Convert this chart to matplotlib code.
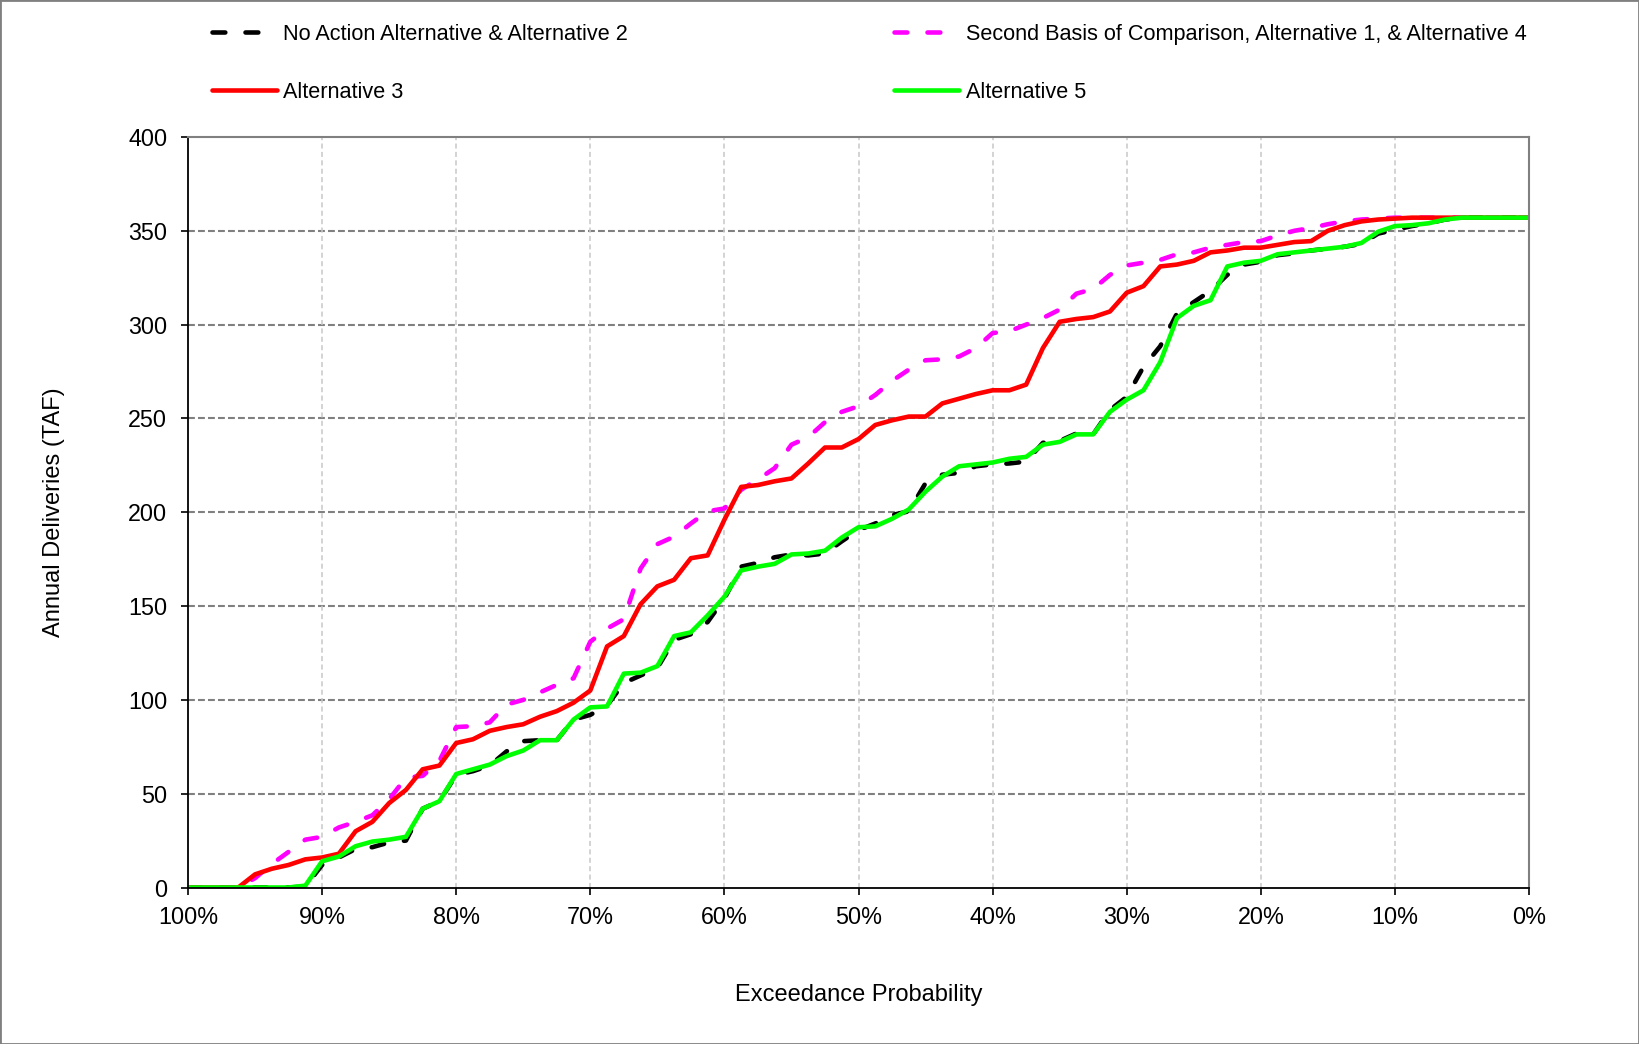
import matplotlib
matplotlib.use("Agg")
import matplotlib.pyplot as plt
from matplotlib.patches import Rectangle
import numpy as np

plt.rcParams['font.family'] = ['Liberation Sans', 'DejaVu Sans']

# Annual deliveries (TAF), sorted ascending, one value per year of record
no_action = [0, 0, 0, 0, 0, 0, 0, 0.5, 12, 16, 20.5, 21.5, 24, 25, 42, 46, 60, 62, 65, 72.5,
             78, 78.5, 78.5, 89.5, 92, 97, 109, 113, 117, 132, 135, 141.5, 154, 171, 173, 176,
             177.5, 177, 178, 184.5, 190.5, 194, 198.5, 200.5, 215.5, 220, 221, 224.5, 225.5,
             226, 227, 237, 238, 242, 241.5, 254.5, 261.5, 277.5, 288.5, 306, 312, 318, 326.5,
             332, 333.5, 337, 338, 339.5, 340.5, 341.5, 343, 348.5, 350.5, 352.5, 354, 356,
             357, 357, 357, 357, 357]
second_basis = [0, 0, 0, 0, 5, 12.5, 19, 25.5, 27, 32, 35, 38.5, 47, 58.5, 59.5, 67.5, 85.5,
                86, 88, 97.5, 100, 104, 108, 111.5, 131, 138, 143, 170, 183, 187, 194, 200.5,
                202, 212, 217.5, 223.5, 236, 240, 248, 253.5, 256.5, 262.5, 270, 276, 281,
                281.5, 283, 287.5, 295.5, 296.5, 300, 303.5, 308, 316.5, 319, 326.5, 331.5,
                333, 334.5, 337.5, 338.5, 341, 342.5, 344, 344.5, 347.5, 350, 351.5, 353.5, 355,
                356, 356.5, 357, 357, 357, 357, 357, 357, 357, 357, 357]
alt3 = [0, 0, 0, 0, 7, 10, 12, 15, 16, 18, 30, 35, 45, 52, 63, 65, 77, 79, 83.5, 85.5, 87, 91,
        94, 98.5, 105, 128.5, 134, 151, 160.5, 164, 175.5, 177, 196, 213.5, 214.5, 216.5, 218,
        226, 234.5, 234.5, 239, 246.5, 249, 251, 251, 258, 260.5, 263, 265, 265, 268, 287.5,
        301.5, 303, 304, 307, 317, 320.5, 331, 332, 334, 338.5, 339.5, 341, 341, 342.5, 344,
        344.5, 350, 353, 355, 356, 356.5, 357, 357, 357, 357, 357, 357, 357, 357]
alt5 = [0, 0, 0, 0, 0, 0, 0, 1, 14, 16.5, 22, 24.5, 25.5, 27, 42, 46, 60.5, 63, 65.5, 70, 73,
        78.5, 78.5, 89.5, 96, 96.5, 114, 114.5, 118, 134, 136, 145, 155, 169, 171, 172.5, 177.5,
        178, 179.5, 186.5, 192, 192.5, 196.5, 201.5, 211, 219, 224.5, 225.5, 226.5, 228.5,
        229.5, 236, 237.5, 241.5, 241.5, 253.5, 260, 265, 280, 303.5, 310, 313, 331, 333, 334,
        337.5, 338.5, 339.5, 340.5, 341.5, 343.5, 349.5, 352.5, 353, 354, 356, 357, 357, 357,
        357, 357]

labels = ["No Action Alternative & Alternative 2",
          "Second Basis of Comparison, Alternative 1, & Alternative 4",
          "Alternative 3",
          "Alternative 5"]

# exceedance probability from rank
n = len(no_action)
exceed = 100.0 * (1 - np.arange(n) / (n - 1))

fig = plt.figure(figsize=(16.39, 10.44), dpi=100)
ax = fig.add_axes([0.1147, 0.1499, 0.9329 - 0.1147, 0.8688 - 0.1499])

lw = 3.3
dash = (0, (2.8, 4.4))
l1, = ax.plot(exceed, no_action, color='black', lw=lw, linestyle=dash, dash_capstyle='round')
l2, = ax.plot(exceed, second_basis, color='#FF00FF', lw=lw, linestyle=dash, dash_capstyle='round')
l3, = ax.plot(exceed, alt3, color='#FF0000', lw=lw, solid_capstyle='round')
l4, = ax.plot(exceed, alt5, color='#00FF00', lw=lw, solid_capstyle='round')

ax.set_xlim(100, 0)
ax.set_ylim(0, 400)
ax.set_xticks(np.arange(100, -1, -10))
ax.set_xticklabels([f"{int(t)}%" for t in np.arange(100, -1, -10)])
ax.set_yticks(np.arange(0, 401, 50))

for y in range(50, 400, 50):
    ax.axhline(y, color='#808080', lw=1.5, linestyle=(0, (3.3, 1.5)), zorder=0)
for x in range(90, 0, -10):
    ax.axvline(x, color='#c8c8c8', lw=1.1, linestyle=(0, (3.3, 2.2)), zorder=0)

ax.tick_params(direction='out', length=5, width=1.2, labelsize=16.8)
ax.tick_params(axis='y', pad=10)
ax.tick_params(axis='x', pad=8)
for s in ['left', 'bottom']:
    ax.spines[s].set_color('black')
    ax.spines[s].set_linewidth(1.3)
for s in ['top', 'right']:
    ax.spines[s].set_color('#808080')
    ax.spines[s].set_linewidth(1.5)

ax.set_xlabel("Exceedance Probability", fontsize=17, labelpad=40)
ax.set_ylabel("Annual Deliveries (TAF)", fontsize=17, labelpad=45)

fig.legend([l1, l3, l2, l4], [labels[0], labels[2], labels[1], labels[3]],
           ncol=2, loc='upper left', bbox_to_anchor=(212 / 1639, 1 - 24 / 1044),
           frameon=False, fontsize=15.6, handlelength=3.0, handletextpad=0.28,
           columnspacing=12.3, labelspacing=1.7, borderpad=0, borderaxespad=0)

fig.patches.append(Rectangle((0, 0), 1, 1, transform=fig.transFigure, fill=False,
                             edgecolor='#808080', lw=2))

fig.savefig("out.png", dpi=100)
